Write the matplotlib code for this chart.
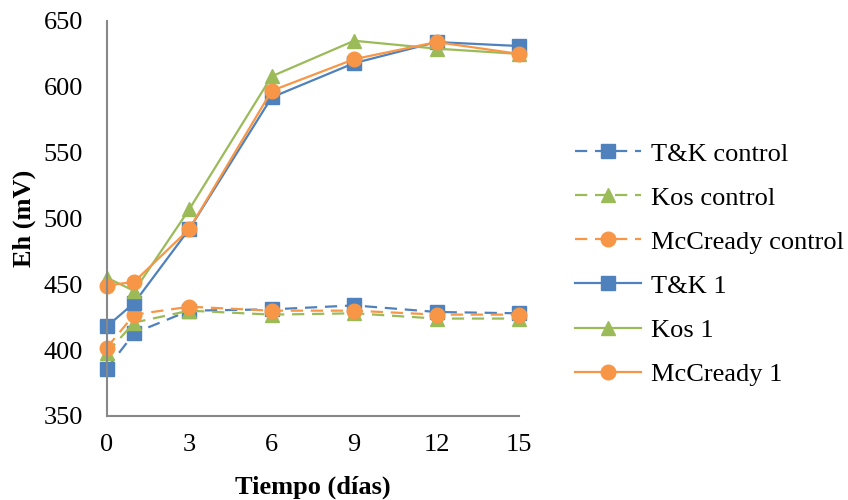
import matplotlib.pyplot as plt

plt.rcParams["font.family"] = "Liberation Serif"

# Eh readings over time for each culture medium
dias = [0, 1, 3, 6, 9, 12, 15]
tk_control = [386, 413, 430, 431, 434, 429, 428]
kos_control = [398, 421, 430, 427, 428, 424, 424]
mcc_control = [402, 427, 433, 430, 430, 427, 427]
tk_1 = [418, 436, 492, 592, 618, 634, 631]
kos_1 = [455, 445, 507, 608, 635, 629, 625]
mcc_1 = [449, 452, 492, 597, 621, 634, 625]

azul = "#4F81BD"
verde = "#9BBB59"
naranja = "#F79646"

fig = plt.figure(figsize=(8.48, 5), dpi=100)
ax = fig.add_axes([0.126, 0.168, 0.486, 0.79])

kw = dict(markersize=10.5, linewidth=1.6)
dash = dict(linestyle=(0, (5.5, 3.5)))
ax.plot(dias, tk_control, color=azul, marker="s", label="T&K control", **dash, **kw)
ax.plot(dias, kos_control, color=verde, marker="^", label="Kos control", **dash, **kw)
ax.plot(dias, mcc_control, color=naranja, marker="o", label="McCready control", **dash, **kw)
ax.plot(dias, tk_1, "-", color=azul, marker="s", label="T&K 1", **kw)
ax.plot(dias, kos_1, "-", color=verde, marker="^", label="Kos 1", **kw)
ax.plot(dias, mcc_1, "-", color=naranja, marker="o", label="McCready 1", **kw)

ax.set_xlim(0, 15)
ax.set_ylim(350, 650)
ax.set_xticks([0, 3, 6, 9, 12, 15])
ax.set_yticks(range(350, 651, 50))
ax.tick_params(length=0, labelsize=19)
ax.tick_params(axis="x", pad=13)
ax.tick_params(axis="y", pad=17)
for s in ["top", "right"]:
    ax.spines[s].set_visible(False)
for s in ["left", "bottom"]:
    ax.spines[s].set_color("#888888")
    ax.spines[s].set_linewidth(1.5)
for a in ax.lines:
    a.set_clip_on(False)

ax.set_xlabel("Tiempo (días)", fontsize=19, fontweight="bold", labelpad=14)
ax.set_ylabel("Eh (mV)", fontsize=19, fontweight="bold", labelpad=6)

ax.legend(loc="center left", bbox_to_anchor=(1.11, 0.385), frameon=False,
          fontsize=19, handlelength=2.5, handletextpad=0.4, labelspacing=0.78,
          borderaxespad=0)

fig.savefig("out.png", dpi=100)
